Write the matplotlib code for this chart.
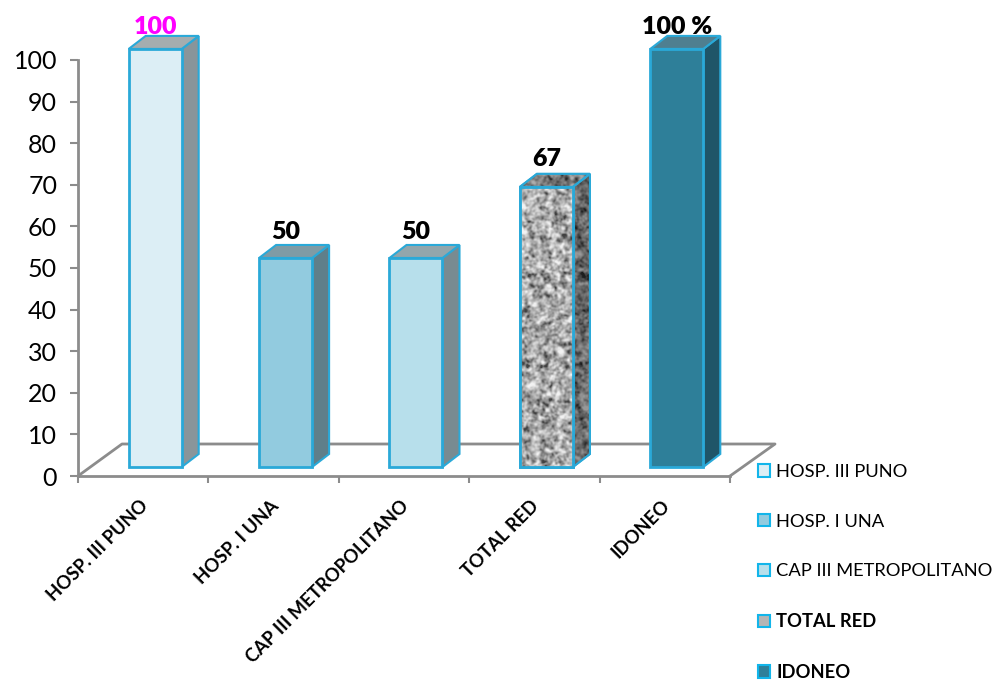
import numpy as np
import matplotlib
matplotlib.use("Agg")
import matplotlib.pyplot as plt
from matplotlib.patches import Polygon, Patch

plt.rcParams['font.family'] = ['Lato', 'DejaVu Sans']

categories = ['HOSP. III PUNO', 'HOSP. I UNA', 'CAP III METROPOLITANO', 'TOTAL RED', 'IDONEO']
values = [100, 50, 50, 67, 100]
value_labels = ['100', '50', '50', '67', '100 %']
label_colors = ['#ff00ff', 'black', 'black', 'black', 'black']
yticks = [0, 10, 20, 30, 40, 50, 60, 70, 80, 90, 100]

front_colors = ['#dceef5', '#92cbdf', '#b7dfeb', '#b5b5b5', '#2e7f99']
side_colors = ['#89959a', '#5f7f8a', '#788b91', '#6a6a6a', '#1f5568']
top_colors = ['#a5adaf', '#7f9ba5', '#92a6ac', '#777777', '#4f7f90']
edge = '#2aa9d8'
axis_grey = '#8c8c8c'

W, H = 994, 680
fig = plt.figure(figsize=(W / 100, H / 100), dpi=100)
ax = fig.add_axes([78 / W, (H - 476) / H, 652 / W, 416 / H])
ax.patch.set_visible(False)

# pixels to data units, for the fake 3D offsets
ux = 5 / 652
uy = 100 / 416
bar_w = 53 * ux
shift_x, shift_y = 12 * ux, 9 * uy
depth_x, depth_y = 17 * ux, 13 * uy
label_nudge = [0, 4, 4, 6, 0]  # px, the labels were placed by hand in the original


def blur(a, sigma):
    k = np.exp(-0.5 * (np.arange(-8, 9) / sigma) ** 2)
    k /= k.sum()
    a = np.apply_along_axis(lambda r: np.convolve(r, k, mode='same'), 0, a)
    return np.apply_along_axis(lambda r: np.convolve(r, k, mode='same'), 1, a)


def granite(h, w):
    # mottled fill for the TOTAL RED bar, 0 to 1 (hash noise, blurred)
    yy, xx = np.mgrid[0:h + 20, 0:w + 20]
    n = np.sin(xx * 12.9898 + yy * 78.233) * 43758.5453
    n = n - np.floor(n)
    z = blur(n, 2.2) + 0.45 * blur(n[::-1, ::-1], 1.0)
    z = z[10:-10, 10:-10]
    lo, hi = np.percentile(z, [1, 99])
    return np.clip((z - lo) / (hi - lo), 0, 1)


# floor
floor_x = [0, 44 * ux, 5 + 45 * ux, 5]
floor_y = [0, 32 * uy, 32 * uy, 0]
ax.plot(floor_x, floor_y, color=axis_grey, lw=2, clip_on=False, zorder=1)

for i, v in enumerate(values):
    x0 = i + 0.5 - bar_w / 2 + shift_x
    x1 = x0 + bar_w
    y0 = shift_y
    y1 = y0 + v * 1.005
    front = Polygon([(x0, y0), (x1, y0), (x1, y1), (x0, y1)], fc=front_colors[i], ec=edge, lw=2, clip_on=False, zorder=3)
    side = Polygon([(x1, y0), (x1 + depth_x, y0 + depth_y), (x1 + depth_x, y1 + depth_y), (x1, y1)],
                   fc=side_colors[i], ec=edge, lw=1.5, clip_on=False, zorder=2)
    top = Polygon([(x0, y1), (x1, y1), (x1 + depth_x, y1 + depth_y), (x0 + depth_x, y1 + depth_y)],
                  fc=top_colors[i], ec=edge, lw=1.5, clip_on=False, zorder=2)
    ax.add_patch(side)
    ax.add_patch(top)
    ax.add_patch(front)
    if categories[i] == 'TOTAL RED':
        tex = granite(300, 72)
        for patch, lo, hi in [(front, 0.25, 0.95), (side, 0.12, 0.6), (top, 0.15, 0.68)]:
            im = ax.imshow(lo + (hi - lo) * tex ** 0.7, cmap='gray', vmin=0, vmax=1,
                           extent=[x0, x1 + depth_x, y0, y1 + depth_y], aspect='auto',
                           zorder=patch.get_zorder() + 0.1, interpolation='bilinear')
            im.set_clip_path(patch)
            ol = Polygon(patch.get_xy(), fill=False, ec=edge, lw=patch.get_linewidth(), clip_on=False, zorder=patch.get_zorder() + 0.2)
            ax.add_patch(ol)
    ax.text(i + 0.5 + shift_x, y1 + depth_y - 0.6 + label_nudge[i] * uy, value_labels[i], color=label_colors[i],
            fontsize=18, fontweight='heavy', ha='center', va='bottom', clip_on=False, zorder=5)

ax.set_xlim(0, 5)
ax.set_ylim(0, 100)

for s in ['top', 'right']:
    ax.spines[s].set_visible(False)
for s in ['left', 'bottom']:
    ax.spines[s].set_color(axis_grey)
    ax.spines[s].set_linewidth(2)
    ax.spines[s].set_zorder(1.5)

ax.set_yticks(yticks)
ax.tick_params(axis='y', length=6, width=1.5, color=axis_grey, labelsize=18, pad=9)
ax.set_xticks(np.arange(6))
ax.set_xticklabels([])
ax.tick_params(axis='x', which='major', length=5, width=1.5, color=axis_grey)
ax.set_xticks(np.arange(5) + 0.5 - 4 * ux, minor=True)
ax.set_xticklabels(categories, minor=True, rotation=45, ha='right', rotation_mode='anchor',
                   fontsize=13.2, fontweight='bold')
ax.tick_params(axis='x', which='minor', length=0, pad=15)

handles = [Patch(fc=c, ec='#12b5ea', lw=1.5) for c in front_colors]
leg = fig.legend(handles, categories, loc='upper left', bbox_to_anchor=(758 / W, (H - 464) / H),
                 frameon=False, fontsize=13.2, handlelength=0.66, handleheight=0.66, handletextpad=0.33,
                 labelspacing=1.84, borderpad=0, borderaxespad=0)
for t in leg.get_texts()[3:]:
    t.set_fontweight('bold')

fig.savefig('out.png', dpi=100)
